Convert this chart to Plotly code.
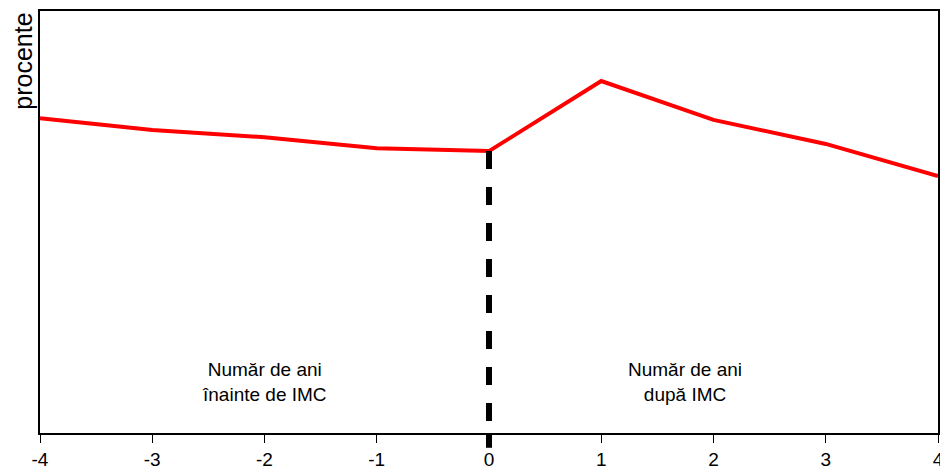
import plotly.graph_objects as go

years = [-4, -3, -2, -1, 0, 1, 2, 3, 4]
values = [74.6, 71.8, 70.1, 67.5, 66.8, 83.4, 74.2, 68.5, 60.9]
tick_labels = ["-4", "-3", "-2", "-1", "0", "1", "2", "3", "4"]

fig = go.Figure()
fig.add_trace(go.Scatter(x=years, y=values, mode="lines",
                         line=dict(color="#ff0000", width=4), showlegend=False))

# dashed divider at year 0, running just below the axis
fig.add_shape(type="line", xref="x", yref="y", x0=0, x1=0, y0=values[4], y1=0,
              line=dict(color="black", width=6, dash="dash"))
fig.add_shape(type="line", xref="x", yref="paper", x0=0, x1=0, y0=0, y1=-0.035,
              line=dict(color="black", width=6))

font = dict(family="Liberation Sans, Arial, sans-serif", size=19, color="black")
fig.add_annotation(x=-2, y=12, text="Număr de ani<br>înainte de IMC", showarrow=False, font=font)
fig.add_annotation(x=1.75, y=12, text="Număr de ani<br>după IMC", showarrow=False, font=font)
fig.add_annotation(xref="paper", yref="paper", x=-0.002, y=1.0, xanchor="right", yanchor="top",
                   text="procente", textangle=-90, showarrow=False,
                   font=dict(family=font["family"], size=25, color="black"))

fig.update_xaxes(range=[-4, 4], tickvals=years, ticktext=tick_labels, ticks="outside",
                 ticklen=8, tickcolor="black", showline=True, linecolor="black",
                 linewidth=1.5, mirror=True, showgrid=False, zeroline=False,
                 tickfont=font, automargin=False)
fig.update_yaxes(range=[0, 100], showticklabels=False, showline=True, linecolor="black",
                 linewidth=1.5, mirror=True, showgrid=False, zeroline=False, automargin=False)

fig.update_layout(width=948, height=475, plot_bgcolor="white", paper_bgcolor="white",
                  margin=dict(l=32, r=18, t=3, b=50), font=font)
fig.write_html("out.html")
